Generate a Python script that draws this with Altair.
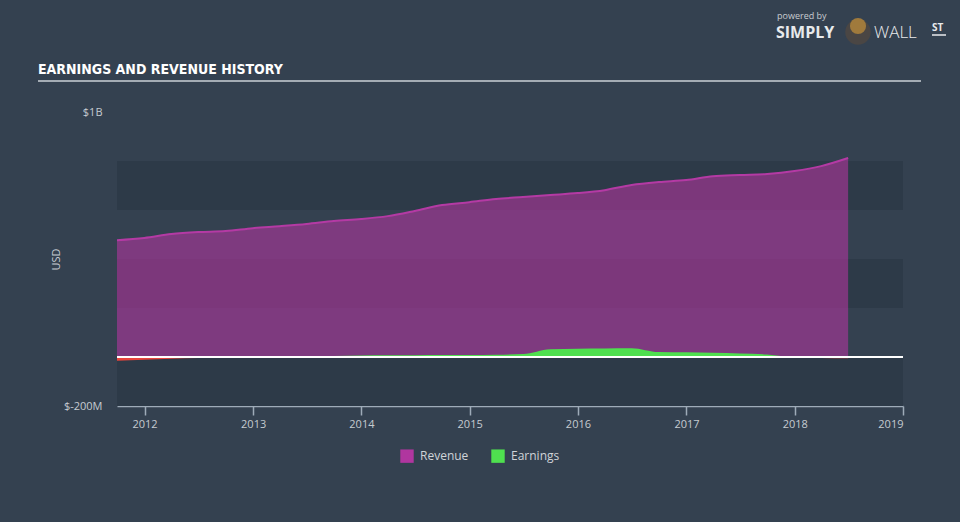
import altair as alt
import pandas as pd

# ---- data (values in millions of USD) ----
dates = ["2011-09-30", "2011-12-31", "2012-03-31", "2012-06-30", "2012-09-30", "2012-12-31",
         "2013-03-31", "2013-06-30", "2013-09-30", "2013-12-31", "2014-03-31", "2014-06-30",
         "2014-09-30", "2014-12-31", "2015-03-31", "2015-06-30", "2015-09-30", "2015-12-31",
         "2016-03-31", "2016-06-30", "2016-09-30", "2016-12-31", "2017-03-31", "2017-06-30",
         "2017-09-30", "2017-12-31", "2018-03-31", "2018-06-30"]
revenue = [477, 486, 502, 510, 514, 526, 534, 543, 555, 563, 575, 596, 620, 632, 645, 653,
           661, 669, 681, 702, 714, 722, 738, 743, 747, 759, 779, 812]
earnings = [-15, -11, -7, -4, 2, 3, 3, 4, 4, 6, 7, 7, 8, 8, 9, 12, 32, 34, 35, 36, 20, 19,
            17, 14, 10, -2, -4, -5]

series_names = ["Revenue", "Earnings"]
series_colors = ["#b0369f", "#4fe04f"]
negative_color = "#e8453c"

band_low = [-200, 200, 600]
band_high = [0, 400, 800]

x_tick_years = [2012, 2013, 2014, 2015, 2016, 2017, 2018, 2019]
y_tick_values = [-200, 1000]
y_tick_labels = ["$-200M", "$1B"]
y_domain = [-200, 1000]

title_text = "EARNINGS AND REVENUE HISTORY"

# ---- styling ----
BG = "#344150"
BAND = "#2d3a48"
TXT = "#c5cbd1"
FONT = "Open Sans"
W, H = 786, 294

df = pd.DataFrame({"date": dates, "Revenue": revenue, "Earnings": earnings})
bands = pd.DataFrame({"lo": band_low, "hi": band_high})

label_expr = " : ".join(
    [f"datum.value == {v} ? '{t}'" for v, t in zip(y_tick_values[:-1], y_tick_labels[:-1])]
    + [f"'{y_tick_labels[-1]}'"]
)

y_axis = alt.Axis(values=y_tick_values, labelExpr=label_expr, title="USD", grid=False,
                  domain=False, ticks=False, labelColor=TXT, labelFontSize=11,
                  labelFont=FONT, labelPadding=15, titleColor=TXT, titleFontSize=11,
                  titleFont=FONT, titleFontWeight="normal", titleX=-56, titleY=H / 2)
y_scale = alt.Scale(domain=y_domain, nice=False, zero=False)

x_scale = alt.Scale(type="utc",
                    domain=[alt.DateTime(year=2011, month=9, date=30, utc=True),
                            alt.DateTime(year=2019, month=1, date=1, utc=True)])
x_axis = alt.Axis(values=[alt.DateTime(year=y, month=1, date=1, utc=True) for y in x_tick_years],
                  format="%Y", title=None, grid=False, labelColor=TXT, labelFontSize=11,
                  labelFont=FONT, tickColor="#9eabb8", domainColor="#9eabb8", domainWidth=1.5,
                  tickWidth=1.5, tickSize=9, labelPadding=3)
x_enc = alt.X("date:T", scale=x_scale, axis=x_axis)

band_layer = alt.Chart(bands).mark_rect(color=BAND).encode(
    x=alt.value(0), x2=alt.value(W),
    y=alt.Y("lo:Q", scale=y_scale, axis=y_axis), y2="hi:Q")

color_scale = alt.Scale(domain=series_names, range=series_colors)
legend = alt.Legend(title=None, orient="none", legendX=283, legendY=337, direction="horizontal",
                    symbolType="square", symbolSize=180, symbolOpacity=1, symbolStrokeWidth=0,
                    labelColor="#d0d4d8", labelFont=FONT, labelFontSize=12, columnPadding=22,
                    labelOffset=6)

rev_area = alt.Chart(df).transform_calculate(series="'Revenue'").mark_area(
    opacity=0.6, interpolate="monotone").encode(
    x=x_enc,
    y=alt.Y("Revenue:Q", scale=y_scale, axis=y_axis, stack=None),
    color=alt.Color("series:N", scale=color_scale, legend=legend))

rev_line = alt.Chart(df).mark_line(color="#b43aa4", strokeWidth=2, interpolate="monotone").encode(
    x=x_enc, y=alt.Y("Revenue:Q", scale=y_scale, axis=y_axis))

earn_pos = alt.Chart(df).transform_calculate(
    series="'Earnings'", pos="max(datum.Earnings, 0)").mark_area(
    opacity=1, interpolate="monotone").encode(
    x=x_enc,
    y=alt.Y("pos:Q", scale=y_scale, axis=y_axis, stack=None),
    color=alt.Color("series:N", scale=color_scale, legend=legend))

earn_neg = alt.Chart(df).transform_calculate(neg="min(datum.Earnings, 0)").mark_area(
    color=negative_color, opacity=1, interpolate="monotone").encode(
    x=x_enc,
    y=alt.Y("neg:Q", scale=y_scale, axis=y_axis, stack=None))

zero_rule = alt.Chart(df).mark_rule(color="white", strokeWidth=1.5).encode(
    x=alt.value(0), x2=alt.value(W), y=alt.datum(0))

# ---- header decorations ----
title_layer = alt.Chart(pd.DataFrame({"t": [title_text]})).mark_text(
    align="left", baseline="alphabetic", font="DejaVu Sans Condensed", fontSize=14,
    fontWeight="bold", color="white").encode(text="t:N", x=alt.value(-79), y=alt.value(-38))

title_rule = alt.Chart(pd.DataFrame({"t": [0]})).mark_rule(color="#a4acb4", strokeWidth=2).encode(
    x=alt.value(-79), x2=alt.value(804), y=alt.value(-31))

powered = alt.Chart(pd.DataFrame({"t": ["powered by"]})).mark_text(
    align="left", baseline="alphabetic", font=FONT, fontSize=9, color="#c8ccd0").encode(
    text="t:N", x=alt.value(660), y=alt.value(-93))
simply = alt.Chart(pd.DataFrame({"t": ["SIMPLY"]})).mark_text(
    align="left", baseline="alphabetic", font=FONT, fontSize=16, fontWeight="bold",
    color="#e8eaec").encode(text="t:N", x=alt.value(659), y=alt.value(-74))
wall = alt.Chart(pd.DataFrame({"t": ["WALL"]})).mark_text(
    align="left", baseline="alphabetic", font=FONT, fontSize=17, fontWeight=300,
    color="#e8eaec").encode(text="t:N", x=alt.value(757), y=alt.value(-74))
st = alt.Chart(pd.DataFrame({"t": ["ST"]})).mark_text(
    align="left", baseline="alphabetic", font=FONT, fontSize=10, fontWeight="bold",
    color="#e8eaec").encode(text="t:N", x=alt.value(815), y=alt.value(-81))
st_rule = alt.Chart(pd.DataFrame({"t": [0]})).mark_rule(color="#e8eaec", strokeWidth=1.5).encode(
    x=alt.value(815), x2=alt.value(829), y=alt.value(-77))
logo = alt.Chart(pd.DataFrame({"t": [0]})).mark_point(
    shape="circle", filled=True, size=650, color="#4a4644", opacity=1).encode(
    x=alt.value(741), y=alt.value(-80))
logo_head = alt.Chart(pd.DataFrame({"t": [0]})).mark_point(
    shape="circle", filled=True, size=260, color="#a07a3c", opacity=1).encode(
    x=alt.value(741), y=alt.value(-86))

chart = alt.layer(
    band_layer, rev_area, rev_line, earn_neg, earn_pos, zero_rule,
    title_layer, title_rule, powered, simply, wall, st, st_rule, logo, logo_head
).properties(
    width=W, height=H,
    autosize=alt.AutoSizeParams(type="none"),
    padding={"left": 117, "top": 112, "right": 57, "bottom": 116},
    background=BG,
).configure_view(stroke=None)

chart.save("out.html", embed_options={"renderer": "svg", "actions": False})
